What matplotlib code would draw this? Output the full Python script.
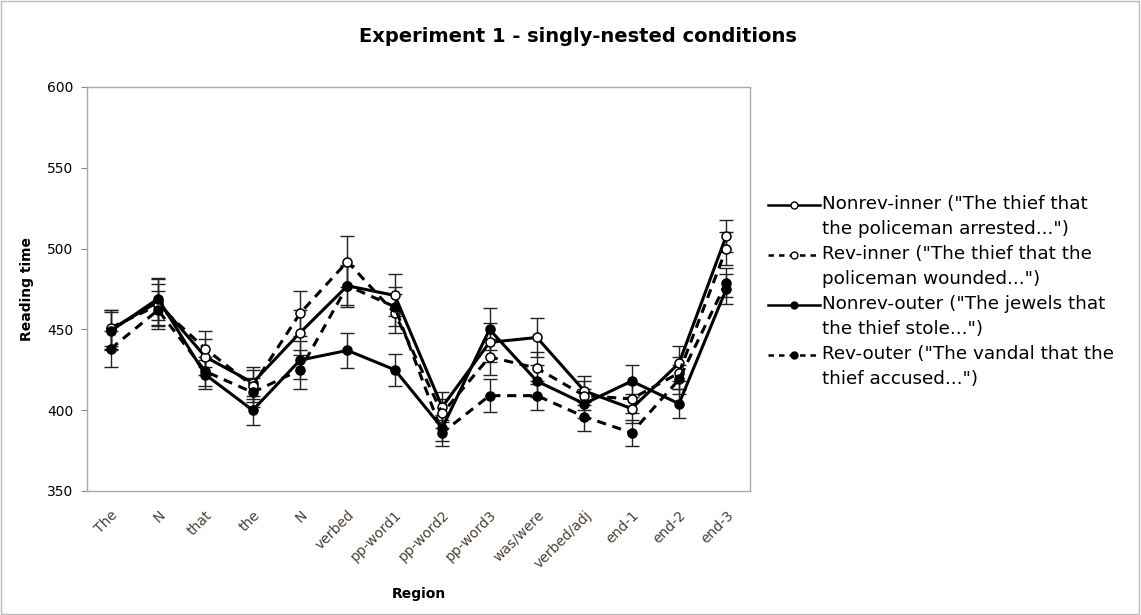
import matplotlib
matplotlib.use("Agg")
import matplotlib.pyplot as plt
from matplotlib.patches import Rectangle
from matplotlib.lines import Line2D

regions = ["The", "N", "that", "the", "N", "verbed", "pp-word1", "pp-word2",
           "pp-word3", "was/were", "verbed/adj", "end-1", "end-2", "end-3"]

nonrev_inner = [450, 467, 433, 417, 448, 477, 471, 402, 442, 445, 412, 401, 429, 508]
rev_inner = [451, 465, 438, 415, 460, 492, 460, 398, 433, 426, 409, 407, 423, 500]
nonrev_outer = [449, 469, 422, 400, 431, 437, 425, 389, 450, 418, 404, 418, 404, 475]
rev_outer = [438, 462, 424, 411, 425, 477, 464, 386, 409, 409, 396, 386, 419, 479]

nonrev_inner_err = [12, 14, 11, 10, 14, 13, 13, 9, 12, 12, 9, 9, 11, 10]
rev_inner_err = [11, 13, 11, 10, 14, 16, 12, 9, 11, 10, 9, 9, 10, 10]
nonrev_outer_err = [12, 13, 9, 9, 12, 11, 10, 8, 13, 10, 9, 10, 9, 9]
rev_outer_err = [11, 12, 9, 9, 12, 12, 12, 8, 10, 9, 9, 8, 9, 9]

labels = ['Nonrev-inner ("The thief that\nthe policeman arrested...")',
          'Rev-inner ("The thief that the\npoliceman wounded...")',
          'Nonrev-outer ("The jewels that\nthe thief stole...")',
          'Rev-outer ("The vandal that the\nthief accused...")']

W, H = 1141, 615
plt.rcParams['font.family'] = ['DejaVu Sans']
fig = plt.figure(figsize=(W/100, H/100), dpi=100)
ax = fig.add_axes([87/W, 1 - 491/H, (750-87)/W, (491-87)/H])

x = list(range(len(regions)))
series = [
    (nonrev_inner, nonrev_inner_err, '-', 'white'),
    (rev_inner, rev_inner_err, (0, (3, 2.2)), 'white'),
    (nonrev_outer, nonrev_outer_err, '-', 'black'),
    (rev_outer, rev_outer_err, (0, (3, 2.2)), 'black'),
]
for vals, err, ls, fc in series:
    ax.errorbar(x, vals, yerr=err, fmt='none', ecolor='#222222', elinewidth=1,
                capsize=5, capthick=1, zorder=2)
    ax.plot(x, vals, linestyle=ls, color='black', linewidth=2.2,
            marker='o', markersize=6.5, markerfacecolor=fc,
            markeredgecolor='black', markeredgewidth=1.1, zorder=3)

ax.set_xlim(-0.5, len(regions) - 0.5)
ax.set_ylim(350, 600)
ax.set_yticks([350, 400, 450, 500, 550, 600])
ax.set_xticks(x)
ax.set_xticklabels(regions, rotation=45, ha='right', rotation_mode='anchor',
                   fontsize=10, color='#4a3f35')
ax.tick_params(axis='x', length=0, pad=12)
ax.tick_params(axis='y', length=4, color='#888888', labelsize=10, pad=6)
for s in ax.spines.values():
    s.set_color('#aaaaaa')
    s.set_linewidth(1)

ax.set_ylabel('Reading time', fontsize=10, fontweight='bold', labelpad=9)
ax.set_xlabel('Region', fontsize=10, fontweight='bold', labelpad=12)
fig.text(578/W, 1 - 37/H, 'Experiment 1 - singly-nested conditions',
         ha='center', va='center', fontsize=14, fontweight='bold')

# legend drawn manually: handle aligned with first text line
for i, ((vals, err, ls, fc), lab) in enumerate(zip(series, labels)):
    yc = 205 + 50 * i
    ln = Line2D([768/W, 820/W], [1 - yc/H, 1 - yc/H], transform=fig.transFigure,
                linestyle=ls if ls == '-' else (0, (2.2, 2.0)), color='black',
                linewidth=1.8)
    mk = Line2D([794/W], [1 - yc/H], transform=fig.transFigure, marker='o',
                markersize=5, markerfacecolor=fc, markeredgecolor='black',
                markeredgewidth=1, linestyle='none')
    fig.lines.extend([ln, mk])
    for j, part in enumerate(lab.split('\n')):
        fig.text(822/W, 1 - (yc + 24.5 * j - 1)/H, part, ha='left',
                 va='center', fontsize=13.2)

fig.patches.append(Rectangle((0.001, 0.001), 0.997, 0.997, transform=fig.transFigure,
                             fill=False, edgecolor='#bbbbbb', linewidth=1))
fig.savefig('out.png', dpi=100)
